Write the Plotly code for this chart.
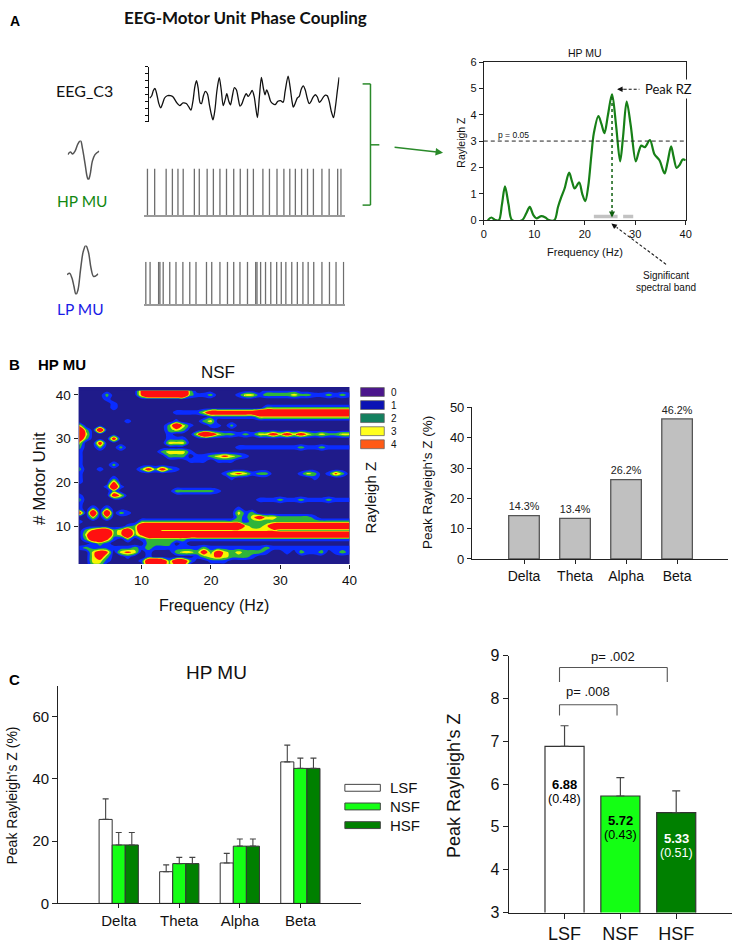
import plotly.graph_objects as go

W, H = 743, 951
ARIAL = "Liberation Sans, Arial, sans-serif"
CALIBRI = "Lato, Open Sans, sans-serif"

# ======================= DATA =======================
# Panel A - schematic EEG trace (time, amplitude; arbitrary units)
EEG_T = [0, 6, 11, 16, 21, 27, 33, 39, 45, 53, 63, 71, 81, 91, 101, 111, 119, 125, 131, 137,
         142, 147, 153, 157, 163, 169, 175, 181, 187, 192, 198, 204, 211, 217, 223, 229, 234, 240, 245, 251,
         257, 263, 269, 274, 280, 286, 293, 299, 305, 311, 317, 322, 327, 333, 339, 345, 350, 355, 361, 367,
         373, 381, 389, 397, 405, 411, 420, 426, 432, 436, 442, 448, 454, 460, 466, 472, 478, 484, 490, 496,
         503, 509, 515, 521, 527, 533, 539, 545, 551, 558, 564, 570, 575]
EEG_V = [3.48, 3.81, 4.57, 4.86, 4.10, 2.76, 2.05, 2.67, 3.48, 3.81, 3.81, 3.62, 2.86, 2.38, 2.76, 2.67, 2.14, 1.71, 3.00, 5.14,
         6.00, 4.90, 2.76, 2.67, 3.81, 4.43, 4.10, 2.52, 1.10, 0.29, 1.81, 4.57, 6.43, 4.67, 2.38, 3.24, 4.10, 3.00, 2.48, 3.81,
         5.00, 4.67, 3.33, 2.29, 2.67, 3.48, 4.10, 3.71, 4.10, 4.57, 3.71, 2.05, 0.62, 3.71, 6.48, 4.90, 3.95, 4.67, 3.95, 3.00,
         2.67, 2.52, 3.00, 3.10, 2.86, 4.43, 6.67, 5.14, 3.00, 2.14, 2.76, 3.48, 3.71, 4.76, 5.24, 4.67, 3.48, 2.67, 3.00, 3.62,
         3.95, 3.62, 2.86, 3.14, 3.62, 3.90, 3.81, 3.00, 1.57, 0.62, 2.29, 4.67, 6.48]
HP_SPIKES = [-7, 15, 50, 69, 86, 102, 136, 151, 175, 194, 214, 234, 256, 276, 298, 316, 345, 365, 388, 409,
             427, 444, 463, 481, 499, 525, 547, 573, 583]
LP_SPIKES = [-12, 1, 27, 31, 41, 61, 80, 101, 122, 141, 173, 189, 214, 237, 256, 275, 298, 323, 327, 338,
             353, 369, 387, 401, 415, 433, 450, 467, 483, 500, 525, 548, 568, 591]
HP_WAVE_T = [0, 8, 15, 23, 31, 39, 45, 53, 59, 63, 68, 75, 83, 96]
HP_WAVE_V = [1.93, 2.13, 1.98, 2.23, 2.75, 3.0, 2.38, 1.18, 0.25, 0.0, 0.38, 1.43, 1.93, 2.2]
LP_WAVE_T = [0, 8, 15, 21, 27, 33, 41, 49, 57, 65, 73, 81, 95]
LP_WAVE_V = [1.2, 1.3, 1.0, 0.5, 0.0, 0.26, 1.5, 2.6, 3.0, 2.6, 1.6, 1.1, 1.26]

# Panel A - Rayleigh Z spectrum of HP MU
RZ_FREQ = [0.8, 1.5, 2.3, 3.0, 3.6, 4.2, 4.9, 5.6, 7.6, 8.4, 9.1, 9.8, 10.4, 11.4, 12.2, 12.9, 14.0, 14.7,
           15.4, 16.0, 16.9, 17.5, 18.0, 18.9, 19.5, 20.1, 20.7, 21.3, 21.8, 22.7, 23.3, 23.9, 24.6, 25.4,
           26.2, 27.0, 27.6, 28.3, 29.1, 30.1, 30.7, 31.2, 31.9, 32.9, 33.8, 34.8, 35.8, 36.4, 37.1, 37.6,
           38.2, 38.8, 39.4, 40.0]
RZ_VAL = [0.0, 0.1, 0.0, 0.0, 0.6, 1.28, 0.6, 0.0, 0.0, 0.25, 0.5, 0.2, 0.07, 0.15, 0.1, 0.0, 0.0, 0.5,
          0.9, 1.2, 1.8, 1.45, 1.2, 1.43, 1.0, 0.72, 1.3, 2.45, 3.3, 3.95, 3.65, 3.3, 4.0, 4.77,
          3.6, 2.23, 3.2, 4.5, 3.6, 2.23, 2.6, 2.83, 2.77, 3.04, 2.5, 2.27, 1.77, 2.2, 2.8, 2.4,
          1.98, 2.1, 2.3, 2.27]
P05_THRESHOLD = 3.0
PEAK_FREQ = 25.4
PEAK_RZ = 4.77
SIG_BAND_START = [21.8, 27.6]
SIG_BAND_END = [26.5, 29.6]

# Panel B - Rayleigh Z map (rows = motor units 41 -> 1, columns = 1..40 Hz)
HEAT_FREQ = list(range(1, 41))
HEAT_UNITS = list(range(1, 42))
HEAT_ROWS_TOP_DOWN = [
    "0000000004 8888882000 0000000111 1100000000",  # 41
    "0000200004 8888882112 0001331222 2322112121",  # 40
    "0000100000 0000000000 0000000000 0000000000",  # 39
    "0000010000 0000000000 0000000000 0000000000",  # 38
    "0000010000 0000000000 0000000222 2222222222",  # 37
    "0000000000 0000111136 6666668888 8888888888",  # 36
    "0000000000 0000000001 1111113333 3333333333",  # 35
    "0000000100 0000100023 0000000000 0000000000",  # 34
    "3000000000 0002631001 1020000000 0000000000",  # 33
    "8207000000 0002320000 0000000000 0000000000",  # 32
    "8300000000 0001000386 3221213353 5353232233",  # 31
    "6200050000 0001110000 0000000000 0000000000",  # 30
    "3005000000 0003330000 0000000000 0000000000",  # 29
    "2002002000 0000000000 0001111111 1121121111",  # 28
    "1000000000 0023331000 0000000000 0000000000",  # 27
    "1000000000 0002220112 3432100000 0000000000",  # 26
    "1000000000 0000001110 1110000000 0000000000",  # 25
    "1000020000 0000000000 0000000000 0000000000",  # 24
    "2001000002 5252100000 0000000000 0000000000",  # 23
    "1000000000 0000000000 0134312200 0013201420",  # 22
    "1000010000 0000000000 0010000000 0000100000",  # 21
    "1000040000 0000000000 0000000000 0000000000",  # 20
    "0000171000 0000000000 0000000000 0000000000",  # 19
    "0000020000 0000222222 1000000000 0000000000",  # 18
    "1000053000 0000000000 0000000000 0000000000",  # 17
    "2000000000 0000000000 0000001112 1121112111",  # 16
    "1000000000 0000000000 0000000000 0000000000",  # 15
    "1020200000 0000000000 0001000000 0000000000",  # 14
    "5070702100 0000000000 0003120000 0000000000",  # 13
    "0030300000 0000000000 0002135332 2222100000",  # 12
    "1000000002 2222222222 2222122222 2222222222",  # 11
    "0000000126 8888888888 8888322368 8888888888",  # 10
    "0246623626 6533333333 3333333332 2222222222",  # 9
    "0379823724 8888888888 8888888888 8888888888",  # 8
    "0267410201 2222221111 1111111111 1111111111",  # 7
    "0012100000 2222010000 0000000000 0000000000",  # 6
    "1211111121 2111111121 1111111211 1111111111",  # 5
    "0035403430 1000233252 5323222100 1021120121",  # 4
    "0035200100 1000000123 4322210000 0000000000",  # 3
    "0033100001 6862662001 1100000000 0000000000",  # 2
    "0022000000 5652440000 0000000000 0000000000",  # 1
]
HEAT_LEGEND_LEVELS = ["0", "1", "2", "3", "4"]

# Panel B - distribution of peak Rayleigh Z across bands (NSF)
BAND_NAMES = ["Delta", "Theta", "Alpha", "Beta"]
NSF_BAND_PCT = [14.3, 13.4, 26.2, 46.2]

# Panel C - per condition band distribution (mean, SE)
COND_NAMES = ["LSF", "NSF", "HSF"]
BAND_PCT = {
    "LSF": [27.0, 10.2, 13.0, 45.5],
    "NSF": [18.8, 12.8, 18.4, 43.4],
    "HSF": [18.8, 12.8, 18.4, 43.4],
}
BAND_PCT_ERR = {
    "LSF": [6.6, 2.2, 3.1, 5.4],
    "NSF": [4.0, 2.0, 2.3, 3.3],
    "HSF": [4.0, 2.0, 2.3, 3.3],
}
PEAK_RZ_MEAN = [6.88, 5.72, 5.33]
PEAK_RZ_SEM = [0.48, 0.43, 0.51]
P_LABELS = ["p= .008", "p= .002"]

# ======================= STYLE =======================
COND_COLORS = {"LSF": "#ffffff", "NSF": "#14ff14", "HSF": "#008000"}
HEAT_COLORS = ["#1f1b8a", "#0a2cff", "#2fb43a", "#f6f600", "#ff1010"]
LEGEND_COLORS = ["#4b168c", "#0a12b4", "#13805f", "#ffff1e", "#ff5a16"]
GREEN = "#178017"


def fx(p):
    return p / W


def fy(p):
    return 1 - p / H


def dx(a, b):
    return [a / W, b / W]


def dy(top, bottom):
    return [1 - bottom / H, 1 - top / H]


fig = go.Figure()

# ---------- Panel A : schematic traces ----------
fig.add_trace(go.Scatter(x=EEG_T, y=EEG_V, mode="lines", xaxis="x6", yaxis="y6",
                         line=dict(color="#111", width=1.3, shape="spline", smoothing=0.8), hoverinfo="skip"))


def spike_xy(times):
    xs, ys = [], []
    for t in times:
        xs += [t, t, None]
        ys += [0, 1, None]
    return xs, ys


sx, sy = spike_xy(HP_SPIKES)
fig.add_trace(go.Scatter(x=sx, y=sy, mode="lines", xaxis="x7", yaxis="y7",
                         line=dict(color="#6e6e6e", width=1.3), hoverinfo="skip"))
sx, sy = spike_xy(LP_SPIKES)
fig.add_trace(go.Scatter(x=sx, y=sy, mode="lines", xaxis="x8", yaxis="y8",
                         line=dict(color="#6e6e6e", width=1.3), hoverinfo="skip"))
fig.add_trace(go.Scatter(x=HP_WAVE_T, y=HP_WAVE_V, mode="lines", xaxis="x9", yaxis="y9",
                         line=dict(color="#555", width=1.5, shape="spline"), hoverinfo="skip"))
fig.add_trace(go.Scatter(x=LP_WAVE_T, y=LP_WAVE_V, mode="lines", xaxis="x10", yaxis="y10",
                         line=dict(color="#555", width=1.5, shape="spline"), hoverinfo="skip"))

# ---------- Panel A : Rayleigh Z spectrum ----------
fig.add_trace(go.Scatter(x=RZ_FREQ, y=RZ_VAL, mode="lines", xaxis="x", yaxis="y",
                         line=dict(color=GREEN, width=2.2, shape="spline", smoothing=0.9), hoverinfo="skip"))
bx, by = [], []
for s, e in zip(SIG_BAND_START, SIG_BAND_END):
    bx += [s, e, None]
    by += [0.14, 0.14, None]
fig.add_trace(go.Scatter(x=bx, y=by, mode="lines", xaxis="x", yaxis="y",
                         line=dict(color="#c2c2c2", width=3.5), hoverinfo="skip"))

# ---------- Panel B : contour map ----------
Z = []
for row in reversed(HEAT_ROWS_TOP_DOWN):
    r = row.replace(" ", "")
    assert len(r) == len(HEAT_FREQ)
    Z.append([int(c) for c in r])
assert len(Z) == len(HEAT_UNITS)
step_scale = []
edges = [0, 0.125, 0.375, 0.625, 0.875, 1.0]
for i, c in enumerate(HEAT_COLORS):
    step_scale += [[edges[i], c], [edges[i + 1], c]]
fig.add_trace(go.Contour(x=HEAT_FREQ, y=HEAT_UNITS, z=Z, xaxis="x2", yaxis="y2",
                         autocontour=False,
                         contours=dict(start=0.5, end=3.5, size=1, coloring="fill", showlines=False),
                         colorscale=step_scale,
                         showscale=False, line=dict(width=0, smoothing=1.0), hoverinfo="skip"))

# ---------- Panel B : bars ----------
fig.add_trace(go.Bar(x=BAND_NAMES, y=NSF_BAND_PCT, xaxis="x3", yaxis="y3", width=0.6,
                     marker=dict(color="#c0c0c0", line=dict(color="#555", width=1.3)),
                     text=[f"{v}%" for v in NSF_BAND_PCT], textposition="outside",
                     textfont=dict(family=ARIAL, size=13.5, color="#222"), cliponaxis=False,
                     hoverinfo="skip"))

# ---------- Panel C left : grouped bars ----------
bw = 0.216
for k, c in enumerate(COND_NAMES):
    fig.add_trace(go.Bar(x=BAND_NAMES, y=BAND_PCT[c], xaxis="x4", yaxis="y4", width=bw,
                         offset=-1.5 * bw + k * bw,
                         marker=dict(color=COND_COLORS[c], line=dict(color="#333", width=1)),
                         error_y=dict(type="data", array=BAND_PCT_ERR[c], symmetric=False,
                                      arrayminus=[0] * len(BAND_NAMES), color="#444", thickness=1.1, width=3),
                         hoverinfo="skip"))

# ---------- Panel C right ----------
fig.add_trace(go.Bar(x=COND_NAMES, y=PEAK_RZ_MEAN, xaxis="x5", yaxis="y5", width=0.7,
                     marker=dict(color=[COND_COLORS[c] for c in COND_NAMES], line=dict(color="#333", width=1.2)),
                     error_y=dict(type="data", array=PEAK_RZ_SEM, symmetric=False,
                                  arrayminus=[0] * len(COND_NAMES), color="#444", thickness=1.2, width=4),
                     hoverinfo="skip"))

# ======================= LAYOUT =======================
base = dict(showgrid=False, zeroline=False, tickfont=dict(family=ARIAL, color="#111"),
            linecolor="#222", tickcolor="#222")
hidden = dict(visible=False, showgrid=False, zeroline=False)

layout = dict(
    width=W, height=H, margin=dict(l=0, r=0, t=0, b=0),
    paper_bgcolor="white", plot_bgcolor="white", showlegend=False, barmode="overlay",
    font=dict(family=ARIAL, color="#111"),
    # A right
    xaxis=dict(base, domain=dx(488, 693), range=[0, 40], dtick=10, ticks="outside", ticklen=4,
               showline=True, mirror=True, linewidth=1, tickfont=dict(family=ARIAL, size=11), anchor="y"),
    yaxis=dict(base, domain=dy(55, 216), range=[0, 6], dtick=1, ticks="outside", ticklen=4,
               showline=True, mirror=True, linewidth=1, tickfont=dict(family=ARIAL, size=11), anchor="x"),
    # B heatmap
    xaxis2=dict(base, domain=dx(76.7, 351.7), range=[0.9, 40], tickvals=[10, 20, 30, 40], ticks="outside",
                ticklen=4, showline=False, tickfont=dict(family=ARIAL, size=13.5), anchor="y2"),
    yaxis2=dict(base, domain=dy(386, 566), range=[1.35, 41.8], tickvals=[10, 20, 30, 40], ticks="outside",
                ticklen=4, showline=False, tickfont=dict(family=ARIAL, size=13.5), anchor="x2"),
    # B bars
    xaxis3=dict(base, domain=dx(476, 736), range=[-1.02, 4.0], ticks="outside", ticklen=4, showline=True,
                linewidth=1, tickfont=dict(family=ARIAL, size=14), anchor="y3"),
    yaxis3=dict(base, domain=dy(406.7, 561), range=[0, 50], dtick=10, ticks="outside", ticklen=4,
                showline=True, linewidth=1, tickfont=dict(family=ARIAL, size=13), anchor="x3"),
    # C left
    xaxis4=dict(base, domain=dx(56, 363.3), range=[-1, 4], ticks="outside", ticklen=4, showline=True,
                linewidth=1, tickfont=dict(family=ARIAL, size=15), anchor="y4"),
    yaxis4=dict(base, domain=dy(690, 911.7), range=[0, 70], tickvals=[0, 20, 40, 60], ticks="outside",
                ticklen=5, showline=True, linewidth=1, tickfont=dict(family=ARIAL, size=15), anchor="x4"),
    # C right
    xaxis5=dict(base, domain=dx(513.3, 740), range=[-1, 3], ticks="outside", ticklen=5, showline=True,
                linewidth=1, tickfont=dict(family=ARIAL, size=18), anchor="y5"),
    yaxis5=dict(base, domain=dy(659.3, 921), range=[3, 9], dtick=1, ticks="outside", ticklen=5,
                showline=True, linewidth=1, tickfont=dict(family=ARIAL, size=16), anchor="x5"),
    # A schematic
    xaxis6=dict(hidden, domain=dx(148.3, 341.5), range=[-2, 576], anchor="y6"),
    yaxis6=dict(showgrid=False, zeroline=False, domain=dy(60, 116), range=[0, 8], dtick=1, ticks="outside",
                ticklen=3, showline=True, linecolor="#111", tickcolor="#111", showticklabels=False, anchor="x6"),
    xaxis7=dict(showgrid=False, zeroline=False, domain=dx(143.3, 346.7), range=[-17, 594], showline=True,
                linecolor="#9a9a9a", linewidth=1.5, showticklabels=False, ticks="", anchor="y7"),
    yaxis7=dict(hidden, domain=dy(163.3, 210.7), range=[0, 1], anchor="x7"),
    xaxis8=dict(showgrid=False, zeroline=False, domain=dx(143.3, 346.7), range=[-17, 594], showline=True,
                linecolor="#9a9a9a", linewidth=1.5, showticklabels=False, ticks="", anchor="y8"),
    yaxis8=dict(hidden, domain=dy(258.3, 301.7), range=[0, 1], anchor="x8"),
    xaxis9=dict(hidden, domain=dx(65.7, 97.7), range=[0, 96], anchor="y9"),
    yaxis9=dict(hidden, domain=dy(135, 175), range=[0, 3], anchor="x9"),
    xaxis10=dict(hidden, domain=dx(65, 96.7), range=[0, 95], anchor="y10"),
    yaxis10=dict(hidden, domain=dy(241.7, 291.7), range=[0, 3], anchor="x10"),
)

shapes = []
ann = []


def text(t, x, y, size, family=ARIAL, color="#111", angle=0, xanchor="center", bold=False, **kw):
    if bold:
        t = f"<b>{t}</b>"
    d = dict(text=t, x=fx(x), y=fy(y), xref="paper", yref="paper", showarrow=False,
             font=dict(family=family, size=size, color=color), textangle=angle,
             xanchor=xanchor, yanchor="middle")
    d.update(kw)
    return d


def line_px(x0, y0, x1, y1, color, width=1.0, dash="solid"):
    return dict(type="line", xref="paper", yref="paper", x0=fx(x0), y0=fy(y0), x1=fx(x1), y1=fy(y1),
                line=dict(color=color, width=width, dash=dash))


def head_px(x, y, ax, ay, color, width=1.2, size=1.0):
    return dict(x=fx(x), y=fy(y), xref="paper", yref="paper", ax=ax, ay=ay, text="", showarrow=True,
                arrowhead=2, arrowsize=size, arrowwidth=width, arrowcolor=color)


# ---- Panel A texts ----
ann.append(text("A", 12, 13, 14, bold=True, color="#000"))
ann.append(text("EEG-Motor Unit Phase Coupling", 246, 10, 17, family=CALIBRI, bold=True, color="#111"))
ann.append(text("EEG_C3", 83, 84, 16, family=CALIBRI, color="#111"))
ann.append(text("HP MU", 80, 197, 15.5, family=CALIBRI, color="#118811"))
ann.append(text("LP MU", 79, 306, 15.5, family=CALIBRI, color="#1a1ae6"))
# green bracket + arrow
for seg in [(365, 77.3, 373, 77.3), (373, 77.3, 373, 200.7), (365, 200.7, 373, 200.7), (373, 139.3, 382, 139.3)]:
    shapes.append(line_px(*seg, color="#2a8a2a", width=1.5))
ann.append(head_px(446.7, 147.3, -50, -5.6, "#2a8a2a", width=1.5))

# Rayleigh plot annotations
ann.append(text("HP MU", 590.5, 46, 10.5))
ann.append(text("Rayleigh Z", 464, 137, 10.5, angle=-90))
ann.append(text("Frequency (Hz)", 591, 248, 11))
ann.append(dict(text="p = 0.05", x=5.8, y=P05_THRESHOLD + 0.22, xref="x", yref="y", showarrow=False,
                font=dict(family=ARIAL, size=8.5, color="#111")))
shapes.append(dict(type="line", xref="x", yref="y", x0=0, x1=40, y0=P05_THRESHOLD, y1=P05_THRESHOLD,
                   line=dict(color="#222", width=1, dash="4px,3px")))
shapes.append(dict(type="line", xref="x", yref="y", x0=PEAK_FREQ, x1=PEAK_FREQ, y0=PEAK_RZ - 0.1, y1=0.35,
                   line=dict(color="#0f5f0f", width=1.5, dash="dot")))
ann.append(dict(x=PEAK_FREQ, y=0.1, xref="x", yref="y", ax=0, ay=-9, text="", showarrow=True,
                arrowhead=2, arrowsize=1, arrowwidth=1.2, arrowcolor="#0f5f0f"))
ann.append(text("Peak RZ", 675, 82, 13, family=CALIBRI, bgcolor="white"))
shapes.append(line_px(630, 82.7, 646, 82.7, "#111", 1.1, "3px,2px"))
ann.append(head_px(623.3, 82.7, 8, 0, "#111", 1.1))
ann.append(text("Significant", 673, 272, 10))
ann.append(text("spectral band", 673, 285, 10))
shapes.append(line_px(673, 261, 623, 223.5, "#111", 1.1, "3px,2px"))
ann.append(head_px(617.5, 219.5, 6.4, 4.8, "#111", 1.1))

# ---- Panel B texts ----
ann.append(text("B", 12, 363, 15, bold=True, color="#000"))
ann.append(text("HP MU", 60, 363, 15, bold=True, color="#000"))
ann.append(text("NSF", 218, 371, 17))
ann.append(text("# Motor Unit", 37, 479, 17, angle=-90))
ann.append(text("Frequency (Hz)", 214, 608, 16))
ann.append(text("Rayleigh Z", 373, 498, 15, angle=-90))
for i, lev in enumerate(HEAT_LEGEND_LEVELS):
    cy = 391 + i * 13.3
    shapes.append(dict(type="rect", xref="paper", yref="paper", x0=fx(363), x1=fx(387), y0=fy(cy + 4.5),
                       y1=fy(cy - 4.5), fillcolor=LEGEND_COLORS[i], line=dict(color="#666", width=0.8)))
    ann.append(text(lev, 392, cy, 10, xanchor="left"))
shapes.append(dict(type="rect", xref="x2 domain", yref="y2 domain", x0=0, x1=1, y0=0, y1=1,
                   fillcolor=HEAT_COLORS[0], line=dict(width=0), layer="below"))
ann.append(text("Peak Rayleigh's Z (%)", 431, 483, 13.5, angle=-90))

# ---- Panel C texts ----
ann.append(text("C", 12, 684, 15, bold=True, color="#000"))
ann.append(text("HP MU", 217, 677, 19))
ann.append(text("Peak Rayleigh's Z (%)", 9, 802, 14, angle=-90))
for k, c in enumerate(COND_NAMES):
    cy = 794 + k * 19
    shapes.append(dict(type="rect", xref="paper", yref="paper", x0=fx(347), x1=fx(383), y0=fy(cy + 3.5),
                       y1=fy(cy - 3.5), fillcolor=COND_COLORS[c], line=dict(color="#444", width=1)))
    ann.append(text(c, 391, cy, 15, xanchor="left"))

ann.append(text("Peak Rayleigh's Z", 458, 792, 18, angle=-90))
LABEL_DROP = [0.88, 0.56, 0.59]
for i, (c, m, s) in enumerate(zip(COND_NAMES, PEAK_RZ_MEAN, PEAK_RZ_SEM)):
    col = "#ffffff" if c == "HSF" else "#000000"
    ann.append(dict(x=c, y=m - LABEL_DROP[i], xref="x5", yref="y5", text=f"<b>{m:.2f}</b>",
                    showarrow=False, font=dict(family=ARIAL, size=13, color=col)))
    ann.append(dict(x=c, y=m - LABEL_DROP[i] - 0.36, xref="x5", yref="y5", text=f"({s:.2f})",
                    showarrow=False, font=dict(family=ARIAL, size=12.5, color=col)))
# significance brackets
BRACKETS = [(-0.09, 0.94, 7.6, 7.85), (-0.09, 1.84, 8.38, 8.72)]
for (xa, xb, yb, yt), lab in zip(BRACKETS, P_LABELS):
    for x0, y0, x1, y1 in [(xa, yb, xa, yt), (xa, yt, xb, yt), (xb, yt, xb, yb)]:
        shapes.append(dict(type="line", xref="x5", yref="y5", x0=x0, x1=x1, y0=y0, y1=y1,
                           line=dict(color="#555", width=1.1)))
    ann.append(dict(x=(xa + xb) / 2, y=min(yt + 0.3, 8.98), xref="x5", yref="y5", text=lab, showarrow=False,
                    font=dict(family=ARIAL, size=13, color="#111")))

layout["shapes"] = shapes
layout["annotations"] = ann
fig.update_layout(**layout)

fig.write_html("out.html", config={"displayModeBar": False},
               post_script="document.body.style.margin='0';document.body.style.padding='0';")
